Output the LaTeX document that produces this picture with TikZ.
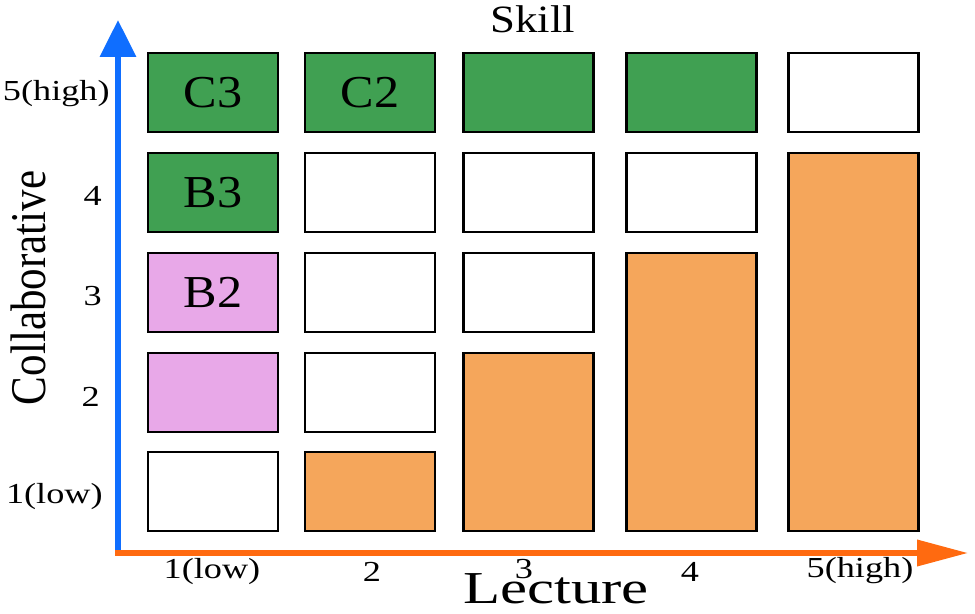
\documentclass[tikz,border=0pt]{standalone}
\usepackage{fontspec}
\setmainfont{Liberation Serif}
\usepackage{graphicx}
\usetikzlibrary{arrows.meta}
\definecolor{cgreen}{RGB}{64,160,82}
\definecolor{cpink}{RGB}{232,168,232}
\definecolor{corange}{RGB}{245,166,91}
\definecolor{cblue}{RGB}{15,110,255}
\definecolor{caxis}{RGB}{255,106,16}
\tikzset{
  box/.style={draw=black, line width=1.2pt, inner sep=0pt, minimum width=2.6cm, minimum height=1.58cm, fill=white},
  gbox/.style={box, fill=cgreen},
  pbox/.style={box, fill=cpink},
  obox/.style={box, fill=corange},
  tick/.style={inner sep=0pt, font=\fontsize{16.5}{18}\selectfont},
}
\newcommand{\wtxt}[2]{\scalebox{#1}[1]{#2}}
\newcommand{\blab}[1]{\fontsize{26}{28}\selectfont\wtxt{1.1}{#1}}
\newcommand{\tlab}[1]{\wtxt{1.25}{#1}}
\begin{document}
\begin{tikzpicture}[x=0.02cm,y=-0.02cm]
\useasboundingbox (0,0) rectangle (975,613);
% row 5
\node[gbox] (c1r5) at (213,92.5) {\blab{C3}};
\node[gbox] (c2r5) at (370,92.5) {\blab{C2}};
\node[gbox] (c3r5) at (528.5,92.5) {};
\node[gbox] (c4r5) at (691.5,92.5) {};
\node[box] (c5r5) at (853.5,92.5) {};
% row 4
\node[gbox] (c1r4) at (213,192.5) {\blab{B3}};
\node[box] (c2r4) at (370,192.5) {};
\node[box] (c3r4) at (528.5,192.5) {};
\node[box] (c4r4) at (691.5,192.5) {};
% row 3
\node[pbox] (c1r3) at (213,292.5) {\blab{B2}};
\node[box] (c2r3) at (370,292.5) {};
\node[box] (c3r3) at (528.5,292.5) {};
% row 2
\node[pbox] (c1r2) at (213,392.5) {};
\node[box] (c2r2) at (370,392.5) {};
% row 1
\node[box] (c1r1) at (213,491.5) {};
\node[obox] (c2r1) at (370,491.5) {};
% tall bars
\node[obox, minimum height=3.56cm] (c3bar) at (528.5,442) {};
\node[obox, minimum height=5.56cm] (c4bar) at (691.5,392) {};
\node[obox, minimum height=7.56cm] (c5bar) at (853.5,342) {};
% axes
\coordinate (yb) at (118,553);
\coordinate (yt) at (118,20);
\coordinate (xl) at (115,553);
\coordinate (xr) at (968,553);
\draw[cblue, line width=3.4pt, -{Triangle[width=20pt,length=21pt]}] (yb) -- (yt);
\draw[caxis, line width=3pt, -{Triangle[width=14.5pt,length=29pt]}] (xl) -- (xr);
% y tick labels
\node[tick, anchor=east] (y5) at (110,94) {\tlab{5(high)}};
\node[tick, anchor=east] (y4) at (102,196) {\tlab{4}};
\node[tick, anchor=east] (y3) at (102,296) {\tlab{3}};
\node[tick, anchor=east] (y2) at (100,397) {\tlab{2}};
\node[tick, anchor=east] (y1) at (103,497) {\tlab{1(low)}};
% x tick labels
\node[tick] (x1) at (212,572) {\tlab{1(low)}};
\node[tick] (x2) at (372,572) {\tlab{2}};
\node[tick] (x3) at (524,569) {\tlab{3}};
\node[tick] (x4) at (690,572) {\tlab{4}};
\node[tick] (x5) at (860,571) {\tlab{5(high)}};
% titles
\node[inner sep=0pt, anchor=base, font=\fontsize{22}{24}\selectfont] (skill) at (533,32) {\wtxt{1.16}{Skill}};
\node[inner sep=0pt, anchor=base, font=\fontsize{26}{28}\selectfont] (lecture) at (556,603) {\wtxt{1.33}{Lecture}};
\node[inner sep=0pt, rotate=90, font=\fontsize{24.5}{26}\selectfont] (collab) at (28,288) {\scalebox{1}[1.16]{Collaborative}};
\end{tikzpicture}
\end{document}
